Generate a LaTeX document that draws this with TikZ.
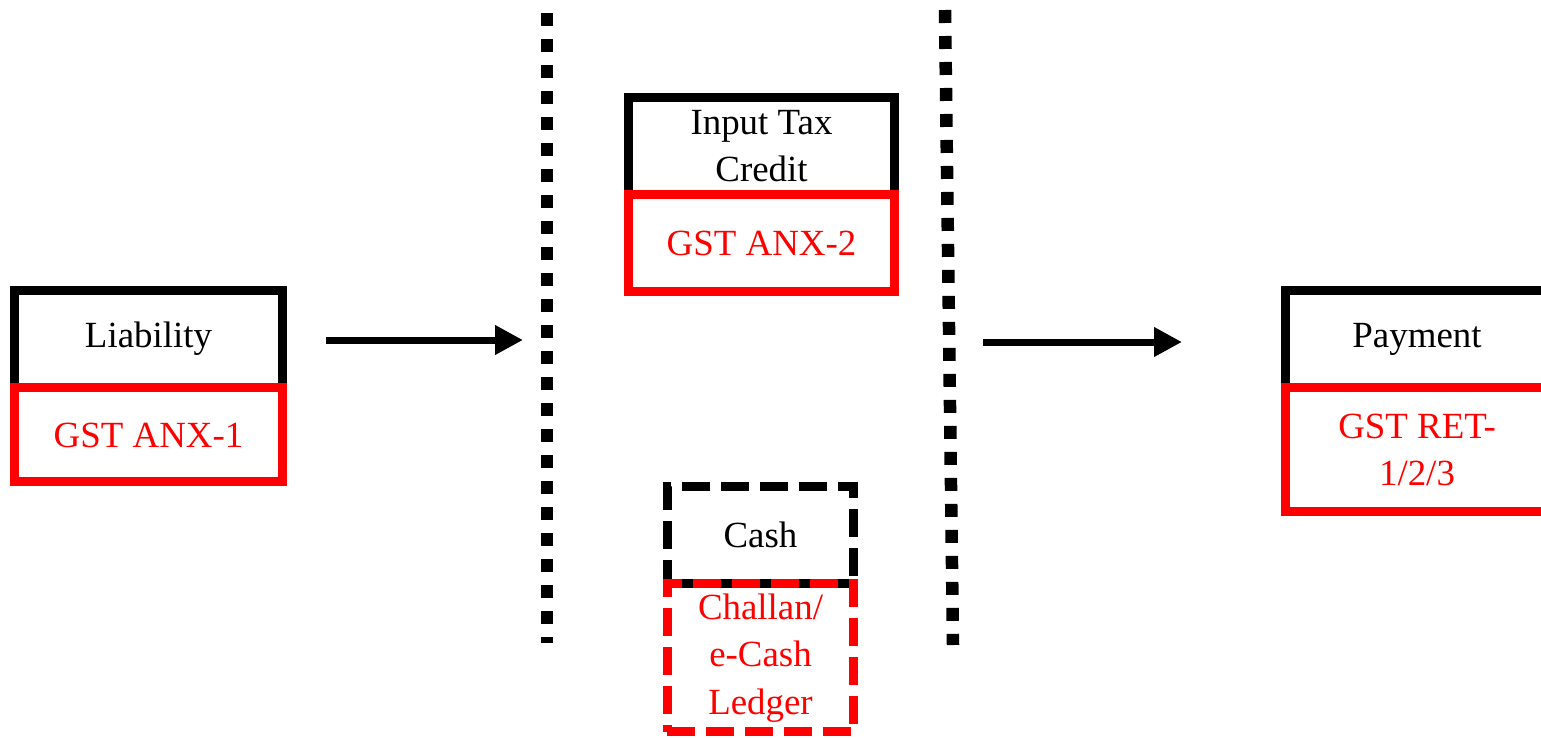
\documentclass[tikz,border=0pt]{standalone}
\usepackage{fontspec}
\setmainfont{Liberation Serif}
\usepackage{tikz}
\usetikzlibrary{arrows.meta}
\usetikzlibrary{positioning}

\begin{document}
\begin{tikzpicture}
  [
    x = 0.02cm, y = -0.02cm,
    node distance = 0pt and 0pt,
    box/.style = {draw, rectangle, line width = 0.18cm, align = center,
                  inner sep = 1pt, outer sep = 0pt,
                  font = \fontsize{21}{27}\selectfont},
    head/.style = {box, draw = black, text = black, minimum height = 1.96cm},
    form/.style = {box, draw = red, text = red},
    dashbox/.style = {dash pattern = on 0.56cm off 0.22cm},
    sep/.style = {line width = 0.25cm, dash pattern = on 0.26cm off 0.26cm},
    arrow/.style = {-{Triangle[length = 0.56cm, width = 0.56cm]}, line width = 0.14cm},
  ]

  \useasboundingbox (0,0) rectangle (1541,737);
  \clip (0,0) rectangle (1541,737);

  % separators
  \coordinate (sep_l_top) at (547,13);
  \coordinate (sep_l_bot) at (547,643);
  \coordinate (sep_r_top) at (945,10);
  \coordinate (sep_r_bot) at (953,645);
  \draw[sep] (sep_l_top) -- (sep_l_bot);
  \draw[sep] (sep_r_top) -- (sep_r_bot);

  % liability
  \node[head, minimum width = 5.36cm] at (148.5,339) (liab) {Liability};
  \node[form, minimum width = 5.36cm, minimum height = 1.88cm]
    [below = of liab] (liab_form) {GST ANX-1};

  % input tax credit
  \node[head, minimum width = 5.34cm] at (761.5,146) (itc) {Input Tax\\Credit};
  \node[form, minimum width = 5.34cm, minimum height = 1.94cm]
    [below = of itc] (itc_form) {GST ANX-2};

  % cash
  \node[head, dashbox, minimum width = 3.74cm] at (760.5,535) (cash) {Cash};
  \node[form, dashbox, minimum width = 3.74cm, minimum height = 2.96cm]
    [below = of cash] (cash_form) {Challan/\\e-Cash\\Ledger};

  % payment
  \node[head, minimum width = 5.28cm] at (1417,339) (pay) {Payment};
  \node[form, minimum width = 5.28cm, minimum height = 2.48cm]
    [below = of pay] (pay_form) {GST RET-\\1/2/3};

  % arrows
  \coordinate (arr_l_from) at (326,340);
  \coordinate (arr_l_to) at (523,340);
  \coordinate (arr_r_from) at (983,342);
  \coordinate (arr_r_to) at (1182,342);
  \draw[arrow] (arr_l_from) -- (arr_l_to);
  \draw[arrow] (arr_r_from) -- (arr_r_to);

\end{tikzpicture}
\end{document}
